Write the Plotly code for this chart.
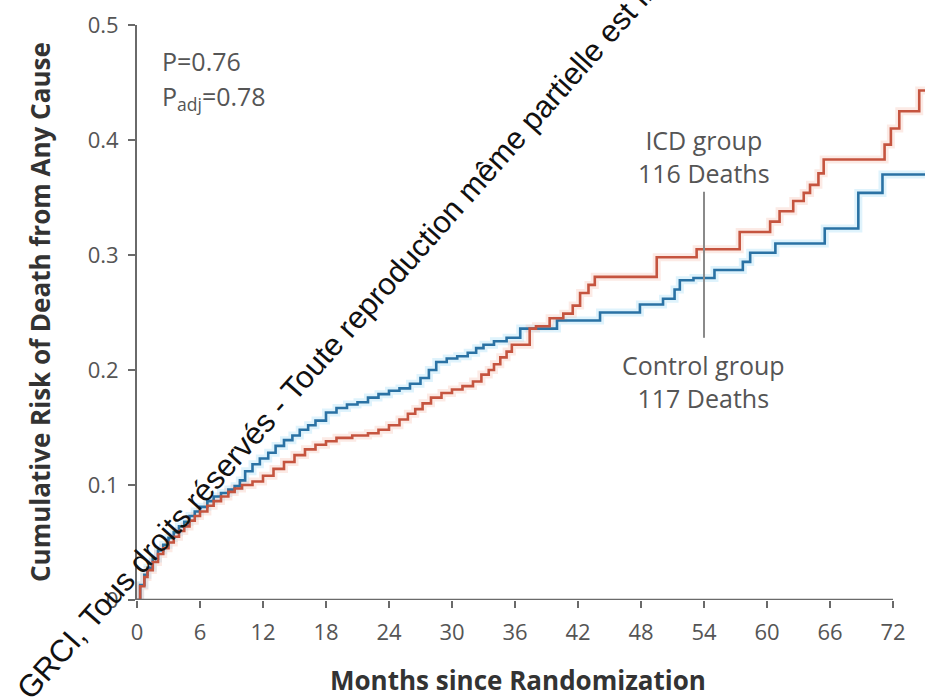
import plotly.graph_objects as go

# ---------------- data ----------------
icd_months = [0, 0.3, 0.7, 1.0, 1.5, 2.0, 2.5, 3.0, 3.5, 4.0, 4.5, 5.0, 5.5, 6.0, 6.7, 7.3,
              8.0, 8.7, 9.3, 10.0, 11.0, 12.0, 13.0, 14.0, 15.0, 16.0, 17.0, 18.0, 19.0,
              20.5, 22.0, 23.0, 24.0, 25.0, 25.8, 26.5, 27.2, 28.0, 29.0, 30.0, 31.0, 32.0,
              32.8, 33.5, 34.0, 34.6, 35.2, 35.7, 37.4, 38.0, 39.3, 40.6, 41.5, 42.2, 43.0,
              43.6, 49.5, 53.3, 57.4, 60.3, 61.2, 62.5, 63.5, 64.1, 64.9, 65.4, 71.2, 71.8,
              72.6, 74.5, 75.1]
icd_risk = [0, 0.012, 0.02, 0.026, 0.033, 0.04, 0.045, 0.05, 0.055, 0.06, 0.064, 0.069,
            0.073, 0.077, 0.082, 0.086, 0.09, 0.094, 0.097, 0.1, 0.103, 0.108, 0.114, 0.12,
            0.126, 0.131, 0.135, 0.138, 0.141, 0.143, 0.145, 0.148, 0.152, 0.157, 0.162,
            0.166, 0.171, 0.176, 0.18, 0.183, 0.186, 0.19, 0.196, 0.2, 0.205, 0.211, 0.216,
            0.222, 0.236, 0.238, 0.245, 0.249, 0.256, 0.267, 0.274, 0.281, 0.298, 0.305,
            0.32, 0.329, 0.338, 0.347, 0.354, 0.361, 0.371, 0.383, 0.396, 0.41, 0.425,
            0.443, 0.443]

ctl_months = [0, 0.3, 0.7, 1.0, 1.5, 2.0, 2.5, 3.0, 3.5, 4.0, 4.5, 5.0, 5.5, 6.0, 6.7, 7.3,
              8.0, 8.7, 9.3, 9.8, 10.3, 11.0, 11.7, 12.5, 13.2, 14.0, 14.8, 15.5, 16.3,
              17.0, 18.0, 19.0, 20.0, 21.0, 22.0, 23.0, 24.0, 25.0, 26.0, 27.0, 27.8, 28.5,
              29.5, 30.5, 31.5, 32.3, 33.0, 34.0, 35.2, 36.5, 40.0, 44.1, 47.9, 50.1, 51.2,
              51.7, 53.0, 55.0, 57.7, 58.4, 60.8, 65.5, 68.7, 71.0, 75.1]
ctl_risk = [0, 0.013, 0.022, 0.028, 0.036, 0.043, 0.048, 0.054, 0.059, 0.064, 0.068, 0.073,
            0.077, 0.081, 0.086, 0.09, 0.093, 0.096, 0.099, 0.104, 0.112, 0.118, 0.123,
            0.128, 0.134, 0.139, 0.143, 0.148, 0.152, 0.156, 0.163, 0.167, 0.17, 0.172,
            0.176, 0.179, 0.182, 0.184, 0.188, 0.193, 0.2, 0.207, 0.21, 0.212, 0.215, 0.219,
            0.222, 0.225, 0.228, 0.236, 0.243, 0.25, 0.257, 0.262, 0.27, 0.278, 0.28, 0.287,
            0.294, 0.302, 0.31, 0.323, 0.354, 0.37, 0.37]

x_ticks = [0, 6, 12, 18, 24, 30, 36, 42, 48, 54, 60, 66, 72]
y_ticks = [0, 0.1, 0.2, 0.3, 0.4, 0.5]
y_tick_labels = ["0", "0.1", "0.2", "0.3", "0.4", "0.5"]

x_title = "Months since Randomization"
y_title = "Cumulative Risk of Death from Any Cause"
p_text = "P=0.76"
padj_text = "P<sub>adj</sub>=0.78"
icd_label = ["ICD group", "116 Deaths"]
ctl_label = ["Control group", "117 Deaths"]
marker_month = 54
watermark = "GRCI, Tous droits réservés - Toute reproduction même partielle est interdite"

# ---------------- styles ----------------
RED = "#c5543f"
BLUE = "#2a72a4"
AXIS = "#6a6a6a"
TXT = "#555555"
FONT = "Open Sans"

fig = go.Figure()

# soft halos under the lines
fig.add_trace(go.Scatter(x=ctl_months, y=ctl_risk, mode="lines", line_shape="hv",
                         line=dict(color="rgba(150,215,245,0.3)", width=8),
                         hoverinfo="skip", showlegend=False))
fig.add_trace(go.Scatter(x=icd_months, y=icd_risk, mode="lines", line_shape="hv",
                         line=dict(color="rgba(245,185,170,0.3)", width=8),
                         hoverinfo="skip", showlegend=False))

fig.add_trace(go.Scatter(x=ctl_months, y=ctl_risk, mode="lines", line_shape="hv",
                         line=dict(color=BLUE, width=2.6), name="Control group",
                         showlegend=False))
fig.add_trace(go.Scatter(x=icd_months, y=icd_risk, mode="lines", line_shape="hv",
                         line=dict(color=RED, width=2.6), name="ICD group",
                         showlegend=False))

fig.update_layout(
    width=925, height=697,
    margin=dict(l=137, r=0, t=25, b=97),
    paper_bgcolor="white", plot_bgcolor="white",
    font=dict(family=FONT, color=TXT),
    xaxis=dict(range=[0, 75.05], tickmode="array", tickvals=x_ticks,
               ticks="outside", ticklen=7, tickwidth=2, tickcolor=AXIS,
               showline=False, showgrid=False, zeroline=False,
               tickfont=dict(size=22, color=TXT, family=FONT), ticklabelstandoff=6),
    yaxis=dict(range=[0, 0.5], tickmode="array", tickvals=y_ticks, ticktext=y_tick_labels,
               ticks="outside", ticklen=7, tickwidth=2, tickcolor=AXIS,
               showline=True, linecolor=AXIS, linewidth=2,
               showgrid=False, zeroline=False,
               tickfont=dict(size=22, color=TXT, family=FONT), ticklabelstandoff=5),
)

# x axis line only up to 72 months
fig.add_shape(type="line", xref="x", yref="y", x0=0, x1=72, y0=0, y1=0,
              line=dict(color=AXIS, width=2.5))

# marker line at 54 months between the labels
fig.add_shape(type="line", xref="x", yref="y", x0=marker_month, x1=marker_month,
              y0=0.228, y1=0.355, line=dict(color="#8a8a8a", width=2))

ann = []
ann.append(dict(text=f"<b>{x_title}</b>", xref="paper", yref="paper", x=0.484,
                y=(600 - 680) / 575, xanchor="center", yanchor="middle", showarrow=False,
                font=dict(size=26, color="#333333", family=FONT)))
ann.append(dict(text=f"<b>{y_title}</b>", xref="paper", yref="paper", x=0,
                y=(600 - 312) / 575, xshift=-97, xanchor="center", yanchor="middle",
                textangle=-90, showarrow=False,
                font=dict(size=26, color="#333333", family=FONT)))
ann.append(dict(text=p_text, xref="paper", yref="paper", x=0, xshift=23,
                y=(600 - 61) / 575, xanchor="left", yanchor="middle", showarrow=False,
                font=dict(size=25, color=TXT, family=FONT)))
ann.append(dict(text=padj_text, xref="paper", yref="paper", x=0, xshift=23,
                y=(600 - 98) / 575, xanchor="left", yanchor="middle", showarrow=False,
                font=dict(size=25, color=TXT, family=FONT)))
ann.append(dict(text="<br>".join(icd_label), xref="x", yref="paper", x=marker_month,
                y=(600 - 157) / 575, xanchor="center", yanchor="middle", showarrow=False,
                font=dict(size=25, color=TXT, family=FONT)))
ann.append(dict(text="<br>".join(ctl_label), xref="x", yref="paper", x=marker_month,
                y=(600 - 381) / 575, xanchor="center", yanchor="middle", showarrow=False,
                font=dict(size=25, color=TXT, family=FONT)))
# diagonal watermark
ann.append(dict(text=watermark, xref="paper", yref="paper",
                x=(366 - 137) / 788, y=(600 - 306) / 575,
                xanchor="center", yanchor="middle", textangle=-48.5, showarrow=False,
                font=dict(size=31, color="#111111", family="Liberation Sans")))
fig.update_layout(annotations=ann)

fig.write_html("out.html")
